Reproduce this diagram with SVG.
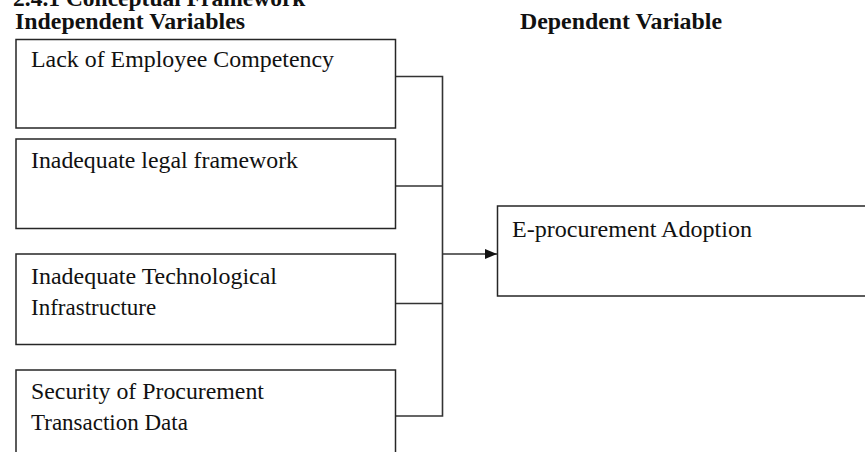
<svg xmlns="http://www.w3.org/2000/svg" width="865" height="452" viewBox="0 0 865 452">
<style>
.box{fill:#fff;stroke:#262626;stroke-width:1.5}
.t{font-family:"Liberation Serif","Times New Roman",serif;font-size:23px;fill:#111}
.h{font-family:"Liberation Serif","Times New Roman",serif;font-size:23.5px;font-weight:bold;fill:#111}
.c{fill:none;stroke:#333;stroke-width:1.6}
</style>
<defs>
<marker id="arr" viewBox="0 0 12 10" refX="12" refY="5" markerWidth="12" markerHeight="10" markerUnits="userSpaceOnUse" orient="auto">
<path d="M0,0 L12,5 L0,10 Z" fill="#111"/>
</marker>
</defs>
<rect width="865" height="452" fill="#fff"/>
<g id="headings">
<text class="h" x="13" y="5.5">2.4.1 Conceptual Framework</text>
<text class="h" x="15" y="29" textLength="230" lengthAdjust="spacingAndGlyphs">Independent Variables</text>
<text class="h" x="520" y="29" textLength="202" lengthAdjust="spacingAndGlyphs">Dependent Variable</text>
</g>
<g id="connectors">
<path class="c" d="M395.5,76.5 H442.5 V416 H395.5"/>
<path class="c" d="M395.5,186 H442.5"/>
<path class="c" d="M395.5,303.5 H442.5"/>
<path class="c" d="M442.5,254 H497" marker-end="url(#arr)"/>
</g>
<g id="node-competency">
<rect class="box" x="16" y="39.5" width="379.5" height="88.5"/>
<text class="t" x="31" y="67" textLength="303" lengthAdjust="spacingAndGlyphs">Lack of Employee Competency</text>
</g>
<g id="node-legal">
<rect class="box" x="16" y="139" width="379.5" height="89.5"/>
<text class="t" x="31" y="168" textLength="267" lengthAdjust="spacingAndGlyphs">Inadequate legal framework</text>
</g>
<g id="node-tech">
<rect class="box" x="16" y="254" width="379.5" height="90.5"/>
<text class="t" x="31" y="283.5" textLength="246" lengthAdjust="spacingAndGlyphs">Inadequate Technological</text>
<text class="t" x="31" y="315">Infrastructure</text>
</g>
<g id="node-security">
<rect class="box" x="16" y="370" width="379.5" height="100"/>
<text class="t" x="31" y="398.5" textLength="233" lengthAdjust="spacingAndGlyphs">Security of Procurement</text>
<text class="t" x="31" y="430">Transaction Data</text>
</g>
<g id="node-adoption">
<rect class="box" x="497.5" y="206" width="380" height="90"/>
<text class="t" x="512" y="237" textLength="240" lengthAdjust="spacingAndGlyphs">E-procurement Adoption</text>
</g>
</svg>
